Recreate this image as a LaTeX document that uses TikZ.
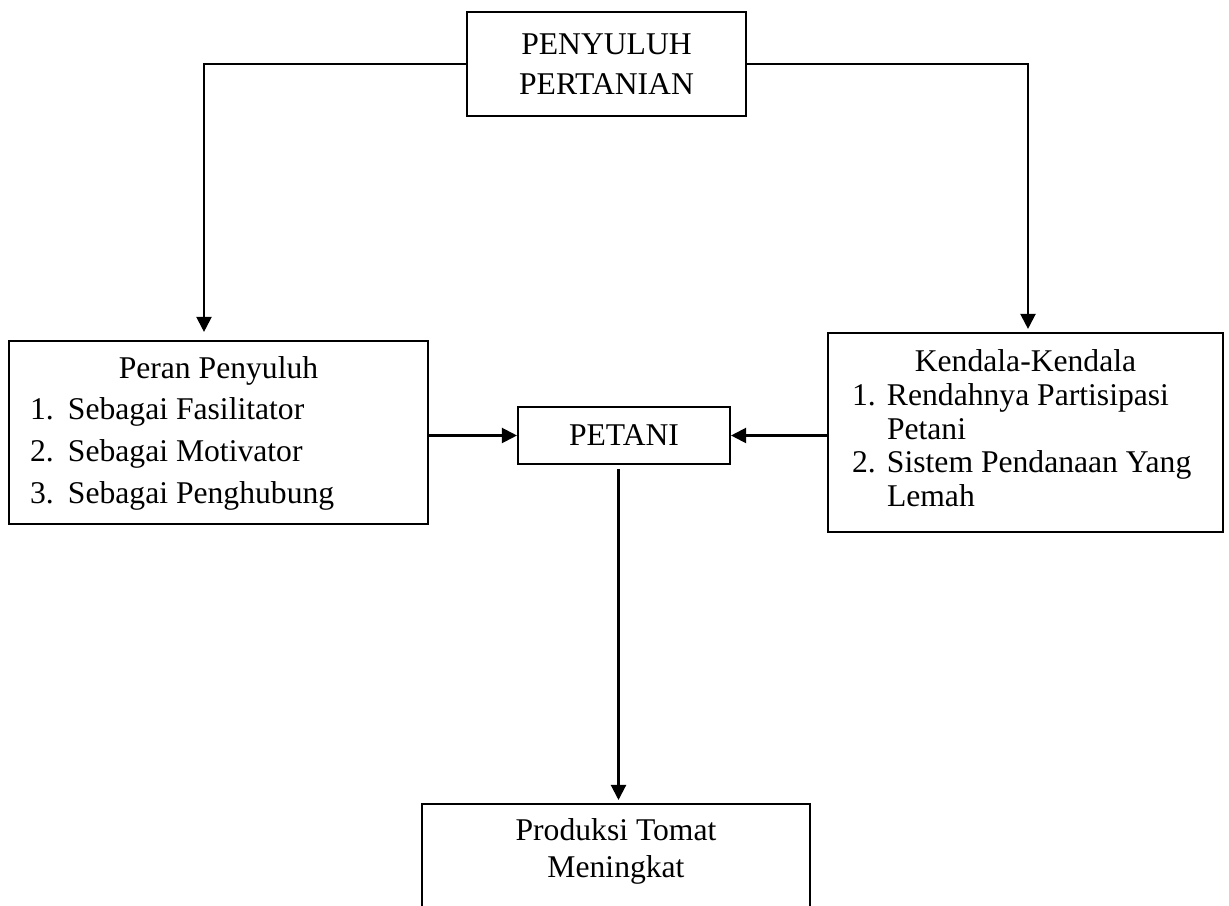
\documentclass[tikz,border=0pt]{standalone}
\usepackage{fontspec}
\setmainfont{Liberation Serif}
\usetikzlibrary{arrows.meta}

\begin{document}
\begin{tikzpicture}[
		box/.style={draw, line width=0.6pt, inner sep=0pt},
		arr/.style={line width=0.6pt, -{Triangle[length=0.15cm, width=0.15cm]}},
		font=\fontsize{9}{10.5}\selectfont]
			%%%%% START %%%%%
			
			\useasboundingbox (0, 0) rectangle (12.29, 9.06);
			\clip (0, 0) rectangle (12.29, 9.06);
			
			\node[box, minimum width=2.79cm, minimum height=1.04cm, align=center, font=\fontsize{9}{11.4}\selectfont] (penyuluh) at (6.065, 8.42) {PENYULUH\\PERTANIAN};
			
			\node[box, minimum width=4.19cm, minimum height=1.83cm, font=\fontsize{9}{11.85}\selectfont] (peran) at (2.185, 4.735) {\begin{tabular}{@{}p{0.38cm}@{}p{3.39cm}@{}}
					\multicolumn{2}{c}{Peran Penyuluh}\\
					1. & Sebagai Fasilitator\\
					2. & Sebagai Motivator\\
					3. & Sebagai Penghubung
				\end{tabular}};
			
			\node[box, minimum width=2.12cm, minimum height=0.57cm] (petani) at (6.24, 4.705) {PETANI};
			
			\node[box, minimum width=3.95cm, minimum height=1.99cm, font=\fontsize{9}{9.6}\selectfont] (kendala) at (10.255, 4.735) {\begin{tabular}{@{}p{0.35cm}@{}p{3.12cm}@{}}
					\multicolumn{2}{c}{Kendala-Kendala}\\
					1. & Rendahnya Partisipasi\\
					& Petani\\
					2. & Sistem Pendanaan Yang\\
					& Lemah
				\end{tabular}};
			
			\node[box, anchor=north, minimum width=3.88cm, inner ysep=0.15cm, text depth=1.5cm, align=center] (hasil) at (6.16, 1.03) {Produksi Tomat\\Meningkat};
			
			\draw[arr, shorten >=0.08cm] (penyuluh.west) -| ([xshift=-0.145cm]peran.north);
			\draw[arr, shorten >=0.03cm] (penyuluh.east) -| ([xshift=0.025cm]kendala.north);
			
			\draw[arr] (peran.east |- petani.west) -- (petani.west);
			\draw[arr] (kendala.west |- petani.east) -- (petani.east);
			
			\draw[arr, shorten <=0.04cm, shorten >=0.03cm] ([xshift=-0.055cm]petani.south) -- ([xshift=-0.055cm]petani.south |- hasil.north);
			
			%%%%% END %%%%%
\end{tikzpicture}
\end{document}
